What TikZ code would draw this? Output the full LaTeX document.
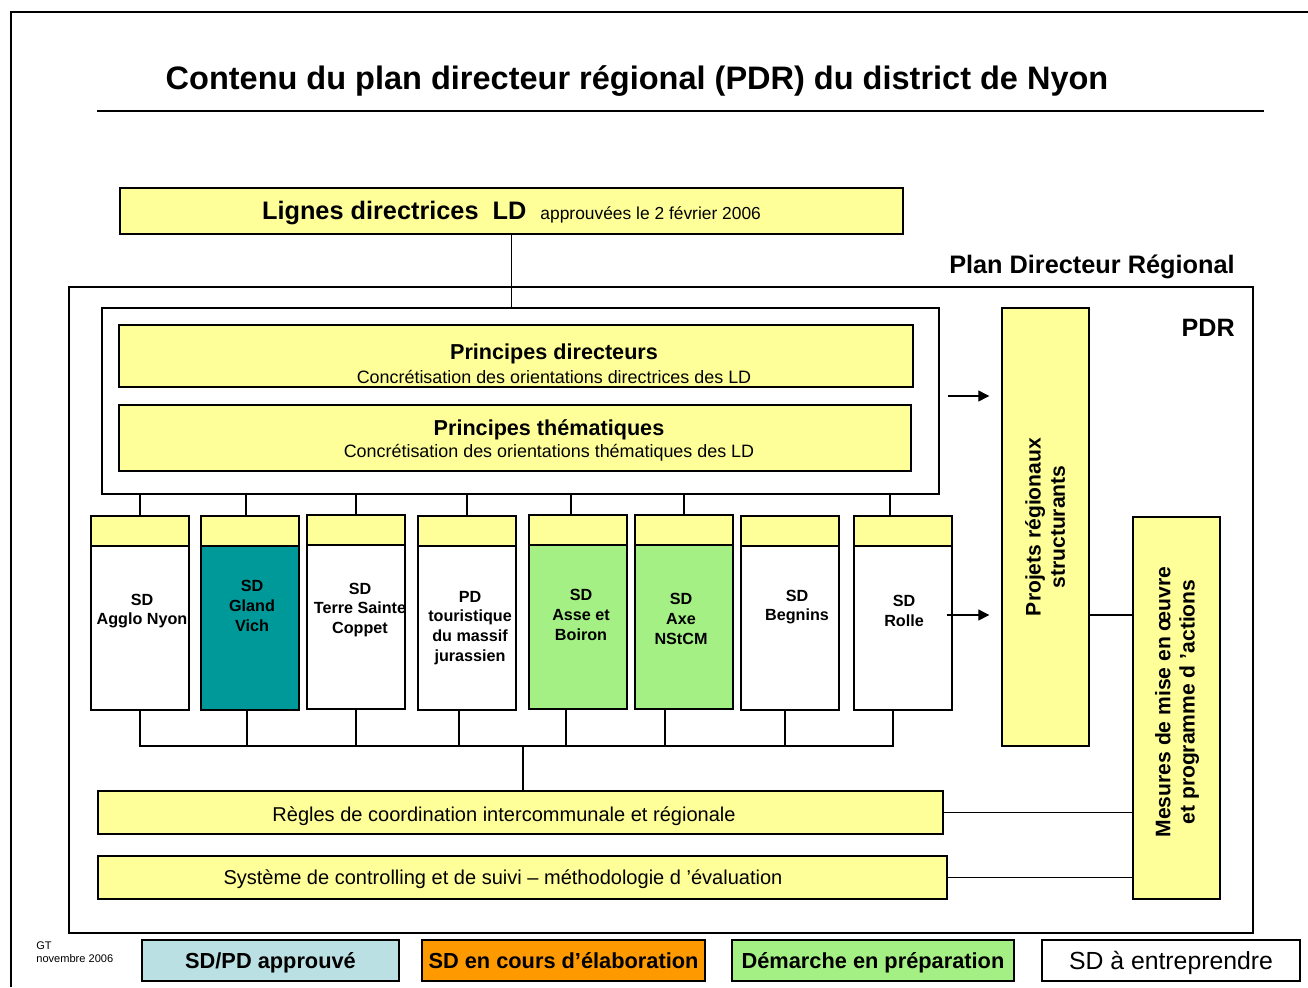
\documentclass[tikz,border=0pt]{standalone}
\usepackage{fontspec}
\setmainfont{Liberation Sans}
\usetikzlibrary{arrows.meta}

\definecolor{yel}{HTML}{FFFF99}
\definecolor{teal}{HTML}{009999}
\definecolor{lgreen}{HTML}{A4F084}
\definecolor{lblue}{HTML}{BAE0E3}
\definecolor{orng}{HTML}{FF9900}

\tikzset{
  sz/.style 2 args={minimum width=#1*0.02cm, minimum height=#2*0.02cm},
  box/.style={draw, line width=0.8pt, inner sep=0pt},
  yb/.style={box, fill=yel},
  col/.style={box, fill=white, sz={98}{194}},
  hd/.style={yb, sz={98}{30}, anchor=north},
  ctx/.style={align=center, inner sep=0pt, font=\bfseries\fontsize{9.2}{11.3}\selectfont},
  big/.style={inner sep=0pt, font=\bfseries\fontsize{12.3}{14}\selectfont},
  small/.style={inner sep=0pt, font=\fontsize{10.2}{12}\selectfont},
  vtx/.style={rotate=90, align=center, inner sep=0pt, font=\bfseries\fontsize{12}{13.8}\selectfont},
  leg/.style={draw, line width=0.6pt, inner sep=0pt, sz={#1}{41}, text height=8.9pt, text depth=0pt},
  arr/.style={-{Triangle[length=0.22cm,width=0.22cm]}, line width=0.7pt},
  link/.style={line width=0.7pt}
}

\begin{document}
\begin{tikzpicture}[x=0.02cm, y=-0.02cm]
\useasboundingbox (0,0) rectangle (1308,987);

% frame and title
\draw[line width=1.1pt] (11,987) -- (11,12) -- (1308,12);
\node[inner sep=0pt, font=\bfseries\fontsize{18.5}{22}\selectfont] (title) at (637,81)
  {Contenu du plan directeur régional (PDR) du district de Nyon};
\draw[line width=0.6pt] (97,111) -- (1264,111);

% lignes directrices
\node[yb, sz={783}{46}] (ld) at (511.5,211) {};
\node[inner sep=0pt] (ldt) at (511.5,213)
  {\fontsize{14.4}{16}\selectfont\bfseries Lignes directrices\ \ LD\ \ \fontsize{9.9}{11}\selectfont\mdseries approuvées le 2 février 2006};

% PDR frame
\node[inner sep=0pt, anchor=east, font=\bfseries\fontsize{14.4}{16}\selectfont] (pdrname) at (1235,267) {Plan Directeur Régional};
\node[box, sz={1184}{646}] (pdr) at (661,610) {};
\node[inner sep=0pt, anchor=east, font=\bfseries\fontsize{14.3}{16}\selectfont] (pdrlbl) at (1235,328) {PDR};

% principes
\node[box, fill=white, sz={837}{186}] (inner) at (520.5,401) {};
\node[yb, sz={794}{62}] (pdir) at (516,356) {};
\node[big] (pdirt) at (554,354) {Principes directeurs};
\node[small] (pdirs) at (554,377) {Concrétisation des orientations directrices des LD};
\node[yb, sz={792}{66}] (pthm) at (515,438) {};
\node[big] (pthmt) at (549,430) {Principes thématiques};
\node[small] (pthms) at (549,453) {Concrétisation des orientations thématiques des LD};

% schemas directeurs
\node[col] (c1) at (140,613) {};
\node[col, fill=teal] (c2) at (250,613) {};
\node[col] (c3) at (356,612) {};
\node[col] (c4) at (467,613) {};
\node[col, fill=lgreen] (c5) at (578,612) {};
\node[col, fill=lgreen] (c6) at (684,612) {};
\node[col] (c7) at (790,613) {};
\node[col] (c8) at (903,613) {};

\node[hd] (h1) at (c1.north) {};
\node[hd] (h2) at (c2.north) {};
\node[hd] (h3) at (c3.north) {};
\node[hd] (h4) at (c4.north) {};
\node[hd] (h5) at (c5.north) {};
\node[hd] (h6) at (c6.north) {};
\node[hd] (h7) at (c7.north) {};
\node[hd] (h8) at (c8.north) {};

\node[ctx] (t1) at (142,611) {SD\\Agglo Nyon};
\node[ctx] (t2) at (252,606) {SD\\Gland\\Vich};
\node[ctx] (t3) at (360,610) {SD\\Terre Sainte\\Coppet};
\node[ctx] (t4) at (470,628) {PD\\touristique\\du massif\\jurassien};
\node[ctx] (t5) at (581,615) {SD\\Asse et\\Boiron};
\node[ctx] (t6) at (681,619) {SD\\Axe\\NStCM};
\node[ctx] (t7) at (797,607) {SD\\Begnins};
\node[ctx] (t8) at (904,611) {SD\\Rolle};

% projets et mesures
\node[yb, sz={87}{438}] (proj) at (1045.5,527) {};
\node[vtx] (projt) at (1045,527) {Projets régionaux\\structurants};
\node[yb, sz={87}{382}] (mes) at (1176.5,708) {};
\node[vtx] (mest) at (1177,702) {Mesures de mise en œuvre\\et programme d ’actions};

% regles et systeme
\node[yb, sz={845}{43}] (regl) at (520.5,812.5) {};
\node[small, font=\fontsize{11.4}{13}\selectfont] (reglt) at (504,816) {Règles de coordination intercommunale et régionale};
\node[yb, sz={849}{43}] (syst) at (522.5,877.5) {};
\node[small, font=\fontsize{11.4}{13}\selectfont] (systt) at (503,879) {Système de controlling et de suivi – méthodologie d ’évaluation};

% liaisons
\draw[link] (ld.south) -- (ld.south |- inner.north);
\draw[link] (h1.north) -- (h1.north |- inner.south);
\draw[link] ([xshift=-0.08cm]h2.north) -- ([xshift=-0.08cm]h2.north |- inner.south);
\draw[link] (h3.north) -- (h3.north |- inner.south);
\draw[link] (h4.north) -- (h4.north |- inner.south);
\draw[link] ([xshift=-0.14cm]h5.north) -- ([xshift=-0.14cm]h5.north |- inner.south);
\draw[link] (h6.north) -- (h6.north |- inner.south);
\draw[link] ([xshift=-0.26cm]h8.north) -- ([xshift=-0.26cm]h8.north |- inner.south);

\coordinate (bus) at (523,746);
\draw[link] (c1.south) |- ([xshift=-0.2cm]bus -| c8.south) -- ([xshift=-0.2cm]c8.south);
\draw[link] ([xshift=-0.06cm]c2.south) -- ([xshift=-0.06cm]c2.south |- bus);
\draw[link] (c3.south) -- (c3.south |- bus);
\draw[link] ([xshift=-0.16cm]c4.south) -- ([xshift=-0.16cm]c4.south |- bus);
\draw[link] ([xshift=-0.24cm]c5.south) -- ([xshift=-0.24cm]c5.south |- bus);
\draw[link] ([xshift=-0.38cm]c6.south) -- ([xshift=-0.38cm]c6.south |- bus);
\draw[link] ([xshift=-0.1cm]c7.south) -- ([xshift=-0.1cm]c7.south |- bus);
\draw[link] (bus) -- (bus |- regl.north);

\draw[arr, shorten <=0.16cm, shorten >=0.24cm] ([yshift=0.1cm]inner.east) -- ([yshift=0.1cm]inner.east -| proj.west);
\draw[arr, shorten <=-0.12cm, shorten >=0.24cm] ([yshift=-0.04cm]c8.east) -- ([yshift=-0.04cm]c8.east -| proj.west);
\draw[link] ([yshift=-0.04cm]c8.east -| proj.east) -- ([yshift=-0.04cm]c8.east -| mes.west);
\draw[link] (regl.east) -- (regl.east -| mes.west);
\draw[link] (syst.east) -- (syst.east -| mes.west);

% legende
\node[inner sep=0pt, anchor=west, align=left, font=\fontsize{6.3}{7.6}\selectfont] (gt) at (36,952) {GT\\novembre 2006};
\node[leg=257, fill=lblue, font=\bfseries\fontsize{12.4}{14}\selectfont] (appr) at (270.5,960.5) {SD/PD approuvé};
\node[leg=283, fill=orng, font=\bfseries\fontsize{12.4}{14}\selectfont] (elab) at (563.5,960.5) {SD en cours d’élaboration};
\node[leg=282, fill=lgreen, font=\bfseries\fontsize{12.4}{14}\selectfont] (prep) at (873,960.5) {Démarche en préparation};
\node[leg=258, fill=white, text height=10.1pt, font=\fontsize{14.1}{16}\selectfont] (entr) at (1171,960.5) {SD à entreprendre};

\end{tikzpicture}
\end{document}
